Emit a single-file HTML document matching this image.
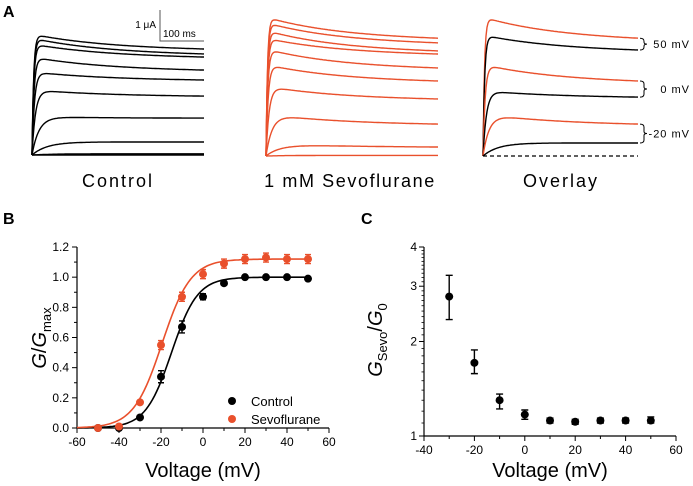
<!DOCTYPE html>
<html><head><meta charset="utf-8"><style>
html,body{margin:0;padding:0;background:#fff;}
svg{display:block;font-family:"Liberation Sans",sans-serif;}
</style></head><body>
<svg id="fig" width="693" height="486" viewBox="0 0 693 486" xmlns="http://www.w3.org/2000/svg">
<g id="panelA"></g>
<g id="panelB"></g>
<g id="panelC"></g>
</svg>
<script>
// ---------- Panel A data (μA) ----------
const ctrlPeak = [3.9, 3.77, 3.58, 3.16, 2.68, 2.1, 1.23, 0.42, 0.04, 0];
const ctrlEnd  = [3.42, 3.26, 3.16, 2.74, 2.42, 1.9, 1.19, 0.42, 0.04, 0];
const sevoPeak = [4.48, 4.3, 4.05, 3.8, 3.45, 2.95, 2.25, 1.35, 0.4, 0.02];
const sevoEnd  = [3.8, 3.65, 3.39, 3.29, 2.84, 2.42, 1.84, 1.03, 0.29, 0.02];
const ovLabels = ["50 mV", "0 mV", "-20 mV"];
const ovIdx = [0, 5, 7];
// ---------- Panel B data ----------
const voltsB = [-50, -40, -30, -20, -10, 0, 10, 20, 30, 40, 50];
const ctrlG = [0, 0, 0.07, 0.34, 0.67, 0.87, 0.96, 1.0, 1.0, 1.0, 0.99];
const ctrlErr = [0.01, 0.01, 0.01, 0.04, 0.04, 0.02, 0.01, 0.01, 0.01, 0.01, 0.01];
const sevoG = [0, 0.01, 0.17, 0.55, 0.87, 1.02, 1.09, 1.12, 1.13, 1.12, 1.12];
const sevoErr = [0.01, 0.01, 0.01, 0.03, 0.03, 0.03, 0.03, 0.03, 0.03, 0.03, 0.03];
const ctrlFit = [1.0, -15, 6.2];
const sevoFit = [1.12, -19.5, 6.8];
const xTicksB = [-60, -40, -20, 0, 20, 40, 60];
const yTicksB = [0, 0.2, 0.4, 0.6, 0.8, 1.0, 1.2];
// ---------- Panel C data ----------
const voltsC = [-30, -20, -10, 0, 10, 20, 30, 40, 50];
const ratioC = [2.78, 1.71, 1.3, 1.17, 1.12, 1.11, 1.12, 1.12, 1.12];
const ratioLo = [2.35, 1.58, 1.22, 1.13, 1.1, 1.09, 1.1, 1.1, 1.1];
const ratioHi = [3.25, 1.88, 1.36, 1.21, 1.14, 1.13, 1.14, 1.14, 1.15];
const xTicksC = [-40, -20, 0, 20, 40, 60];
const yTicksC = [1, 2, 3, 4];

const NS = "http://www.w3.org/2000/svg";
const RED = "#e9502c";
function mk(parent, tag, attrs, text) {
  const e = document.createElementNS(NS, tag);
  for (const k in attrs) e.setAttribute(k, attrs[k]);
  if (text !== undefined) e.textContent = text;
  parent.appendChild(e);
  return e;
}
const A = document.getElementById('panelA');
const B = document.getElementById('panelB');
const C = document.getElementById('panelC');

// ---------- Panel A ----------
const pxPerUA = 31, pxPerMs = 0.44;
function tracePath(x0, x1, base, pk, end) {
  const tr = 3 + 50 * Math.exp(-pk / 0.9);
  const ti = 170;
  const T = (x1 - x0) / pxPerMs;
  const tail = (pk - end) * Math.exp(-T / ti);
  let d = "";
  for (let x = x0; x <= x1; x += 1) {
    const t = (x - x0) / pxPerMs;
    const act = 1 - Math.exp(-t / tr);
    const inact = end + (pk - end) * Math.exp(-t / ti) - tail * (t / T);
    const v = act * inact;
    d += (x === x0 ? "M" : "L") + x + "," + (base - v * pxPerUA).toFixed(1);
  }
  return d;
}
function drawTraces(x0, x1, base, pks, ends, color, name) {
  for (let i = 0; i < pks.length; i++) {
    const p = mk(A, 'path', {d: tracePath(x0, x1, base, pks[i], ends[i]), fill: 'none', stroke: color, 'stroke-width': 1.4});
    
    
  }
}
mk(A, 'text', {x: 3, y: 17, 'font-size': 16, 'font-weight': 'bold',  }, 'A');
drawTraces(32, 204, 155, ctrlPeak, ctrlEnd, '#000', 'control');
drawTraces(266, 438, 156, sevoPeak, sevoEnd, RED, 'sevo');
// scale bar
mk(A, 'path', {d: 'M160,10 L160,41 L204,41', fill: 'none', stroke: '#555', 'stroke-width': 1,  });
mk(A, 'text', {x: 156, y: 28, 'font-size': 10, 'text-anchor': 'end',  }, '1 μA');
mk(A, 'text', {x: 163, y: 37, 'font-size': 10,  }, '100 ms');
// overlay
mk(A, 'line', {x1: 483, y1: 156, x2: 638, y2: 156, stroke: '#000', 'stroke-width': 1.2, 'stroke-dasharray': '4,3',  });
ovIdx.forEach((k, j) => {
  const pr = mk(A, 'path', {d: tracePath(483, 638, 156, sevoPeak[k], sevoEnd[k]), fill: 'none', stroke: RED, 'stroke-width': 1.4});
  
  
  const pb = mk(A, 'path', {d: tracePath(483, 638, 156, ctrlPeak[k], ctrlEnd[k]), fill: 'none', stroke: '#000', 'stroke-width': 1.4});
  
  
  const yT = 156 - sevoEnd[k] * pxPerUA, yB = 156 - ctrlEnd[k] * pxPerUA;
  const ym = (yT + yB) / 2;
  const br = mk(A, 'path', {d: `M640,${yT} Q644,${yT} 644,${yT+3} L644,${ym-2} Q644,${ym} 647,${ym} Q644,${ym} 644,${ym+2} L644,${yB-3} Q644,${yB} 640,${yB}`, fill: 'none', stroke: '#000', 'stroke-width': 1});
  
  
  const t = mk(A, 'text', {x: 690, y: ym + 4, 'font-size': 11, 'text-anchor': 'end', 'letter-spacing': 1}, ovLabels[j]);
  
  
});
mk(A, 'text', {x: 118, y: 187, 'font-size': 18, 'text-anchor': 'middle', 'letter-spacing': 2,  }, 'Control');
mk(A, 'text', {x: 350, y: 187, 'font-size': 18, 'text-anchor': 'middle', 'letter-spacing': 1.6,  }, '1 mM Sevoflurane');
mk(A, 'text', {x: 561, y: 187, 'font-size': 18, 'text-anchor': 'middle', 'letter-spacing': 2,  }, 'Overlay');

// ---------- Panel B ----------
const bL = 77, bR = 329, bT = 247, bB = 428;
const xB = v => bL + (v + 60) / 120 * (bR - bL);
const yB = v => bB - v / 1.2 * (bB - bT);
mk(B, 'text', {x: 3, y: 224, 'font-size': 16, 'font-weight': 'bold',  }, 'B');
mk(B, 'path', {d: `M${bL},${bT} L${bL},${bB} L${bR},${bB}`, fill: 'none', stroke: '#000', 'stroke-width': 1.2,  });
xTicksB.forEach(v => {
  mk(B, 'line', {x1: xB(v), y1: bB, x2: xB(v), y2: bB + 5, stroke: '#000'});
  mk(B, 'line', {x1: xB(v + 10), y1: bB, x2: xB(v + 10), y2: bB + 3, stroke: '#000', opacity: v < 60 ? 1 : 0});
  const t = mk(B, 'text', {x: xB(v), y: bB + 18, 'font-size': 12, 'text-anchor': 'middle'}, v);
  
  
});
yTicksB.forEach(v => {
  mk(B, 'line', {x1: bL - 5, y1: yB(v), x2: bL, y2: yB(v), stroke: '#000'});
  if (v < 1.2) mk(B, 'line', {x1: bL - 3, y1: yB(v + 0.1), x2: bL, y2: yB(v + 0.1), stroke: '#000'});
  const t = mk(B, 'text', {x: bL - 8, y: yB(v) + 4, 'font-size': 12, 'text-anchor': 'end'}, v.toFixed(1));
  
  
});
mk(B, 'text', {x: 203, y: 477, 'font-size': 20, 'text-anchor': 'middle',  }, 'Voltage (mV)');
const yt = mk(B, 'text', {transform: 'translate(46,338) rotate(-90)', 'font-size': 20, 'text-anchor': 'middle',  });
mk(yt, 'tspan', {'font-style': 'italic'}, 'G');
mk(yt, 'tspan', {}, '/');
mk(yt, 'tspan', {'font-style': 'italic'}, 'G');
mk(yt, 'tspan', {'font-size': 13, dy: 5}, 'max');
function fitPath(p) {
  let d = "";
  for (let v = -60; v <= 50.01; v += 1) {
    const g = p[0] / (1 + Math.exp((p[1] - v) / p[2]));
    d += (v === -60 ? "M" : "L") + xB(v).toFixed(1) + "," + yB(g).toFixed(1);
  }
  return d;
}
mk(B, 'path', {d: fitPath(ctrlFit), fill: 'none', stroke: '#000', 'stroke-width': 1.6,  });
mk(B, 'path', {d: fitPath(sevoFit), fill: 'none', stroke: RED, 'stroke-width': 1.6,  });
function pts(vals, errs, color, name) {
  voltsB.forEach((v, i) => {
    const x = xB(v), y = yB(vals[i]), e = errs[i] / 1.2 * (bB - bT);
    const eb = mk(B, 'path', {d: `M${x},${y-e} L${x},${y+e} M${x-3},${y-e} L${x+3},${y-e} M${x-3},${y+e} L${x+3},${y+e}`, stroke: color, 'stroke-width': 1.4});
    
    
    const c = mk(B, 'circle', {cx: x, cy: y, r: 4, fill: color});
    
    
  });
}
pts(ctrlG, ctrlErr, '#000', 'control');
pts(sevoG, sevoErr, RED, 'sevo');
mk(B, 'circle', {cx: 232, cy: 401, r: 4, fill: '#000',  });
mk(B, 'text', {x: 251, y: 406, 'font-size': 13,  }, 'Control');
mk(B, 'circle', {cx: 232, cy: 419, r: 4, fill: RED,  });
mk(B, 'text', {x: 251, y: 424, 'font-size': 13,  }, 'Sevoflurane');

// ---------- Panel C ----------
const cL = 424, cR = 676, cT = 247, cB = 436;
const xC = v => cL + (v + 40) / 100 * (cR - cL);
const yC = v => cB - Math.log(v) / Math.log(4) * (cB - cT);
mk(C, 'text', {x: 361, y: 224, 'font-size': 16, 'font-weight': 'bold',  }, 'C');
mk(C, 'path', {d: `M${cL},${cT} L${cL},${cB} L${cR},${cB}`, fill: 'none', stroke: '#000', 'stroke-width': 1.2,  });
xTicksC.forEach(v => {
  mk(C, 'line', {x1: xC(v), y1: cB, x2: xC(v), y2: cB + 5, stroke: '#000'});
  if (v < 60) mk(C, 'line', {x1: xC(v + 10), y1: cB, x2: xC(v + 10), y2: cB + 3, stroke: '#000'});
  const t = mk(C, 'text', {x: xC(v), y: cB + 18, 'font-size': 12, 'text-anchor': 'middle'}, v);
  
  
});
yTicksC.forEach(v => {
  mk(C, 'line', {x1: cL - 5, y1: yC(v), x2: cL, y2: yC(v), stroke: '#000'});
  if (v < 4) for (let m = 1; m < 10; m++) {
    const mv = v + m / 10;
    mk(C, 'line', {x1: cL - 2.5, y1: yC(mv), x2: cL, y2: yC(mv), stroke: '#000', 'stroke-width': 0.8});
  }
  const t = mk(C, 'text', {x: cL - 7, y: yC(v) + 4, 'font-size': 12, 'text-anchor': 'end'}, v);
  
  
});
mk(C, 'text', {x: 550, y: 477, 'font-size': 20, 'text-anchor': 'middle',  }, 'Voltage (mV)');
const ct = mk(C, 'text', {transform: 'translate(382,340) rotate(-90)', 'font-size': 20, 'text-anchor': 'middle',  });
mk(ct, 'tspan', {'font-style': 'italic'}, 'G');
mk(ct, 'tspan', {'font-size': 13, dy: 5}, 'Sevo');
mk(ct, 'tspan', {dy: -5}, '/');
mk(ct, 'tspan', {'font-style': 'italic'}, 'G');
mk(ct, 'tspan', {'font-size': 13, dy: 5}, '0');
voltsC.forEach((v, i) => {
  const x = xC(v), y = yC(ratioC[i]), y1 = yC(ratioHi[i]), y2 = yC(ratioLo[i]);
  const eb = mk(C, 'path', {d: `M${x},${y1} L${x},${y2} M${x-3.5},${y1} L${x+3.5},${y1} M${x-3.5},${y2} L${x+3.5},${y2}`, stroke: '#000', 'stroke-width': 1.4});
  
  
  const c = mk(C, 'circle', {cx: x, cy: y, r: 4, fill: '#000'});
  
  
});
</script>
</body></html>
